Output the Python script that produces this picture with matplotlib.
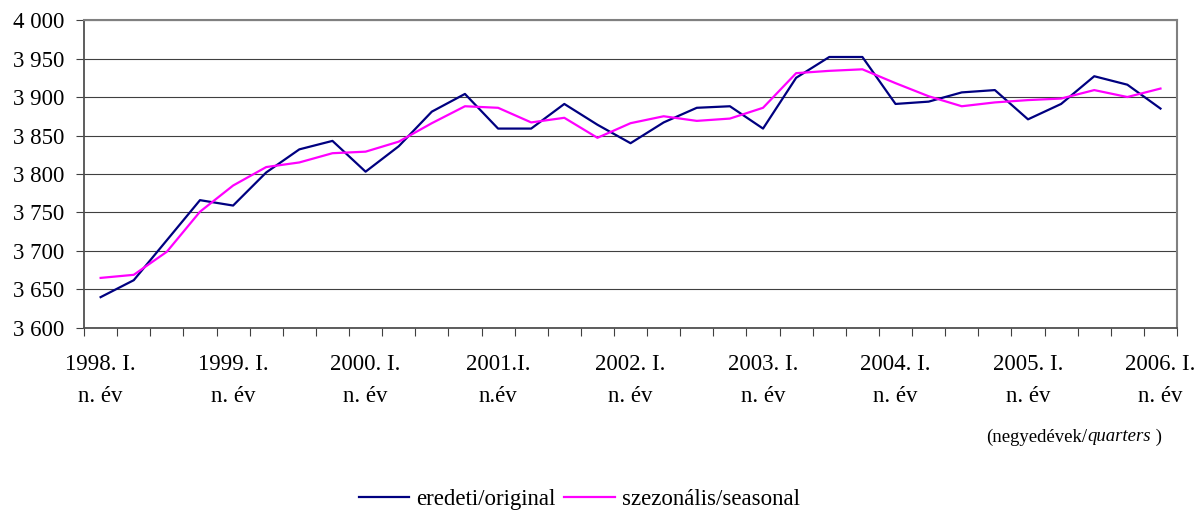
import numpy as np
import matplotlib
matplotlib.use("Agg")
import matplotlib.pyplot as plt
from matplotlib.ticker import FuncFormatter, FixedLocator

plt.rcParams['font.family'] = ['Liberation Serif', 'DejaVu Serif']

# 1998 Q1 .. 2006 Q1 (33 quarters)
original = [3640, 3662, 3714, 3766, 3759, 3802, 3832, 3843, 3803, 3836,
            3881, 3904, 3859, 3859, 3891, 3864, 3840, 3867, 3886, 3888,
            3859, 3925, 3952, 3952, 3891, 3894, 3906, 3909, 3871, 3891,
            3927, 3916, 3885]
seasonal = [3665, 3669, 3699, 3751, 3785, 3809, 3815, 3827, 3829, 3842,
            3866, 3888, 3886, 3867, 3873, 3847, 3866, 3875, 3869, 3872,
            3886, 3931, 3934, 3936, 3918, 3901, 3888, 3893, 3896, 3898,
            3909, 3900, 3911]
tick_labels = ["1998. I.\nn. év", "1999. I.\nn. év", "2000. I.\nn. év",
               "2001.I.\nn.év", "2002. I.\nn. év", "2003. I.\nn. év",
               "2004. I.\nn. év", "2005. I.\nn. év", "2006. I.\nn. év"]
label_step = 4

fs = 16.5
fig = plt.figure(figsize=(11.94, 5.14), dpi=100)
ax = fig.add_axes([0.0704, 0.362, 0.9154, 0.599])

x = np.arange(len(original))
ax.plot(x, original, color='#000080', lw=1.6, label='eredeti/original')
ax.plot(x, seasonal, color='#FF00FF', lw=1.6, label='szezonális/seasonal')

ax.set_xlim(-0.5, len(original) - 0.5)
ax.set_ylim(3600, 4000)
ax.set_yticks(np.arange(3600, 4001, 50))
ax.yaxis.set_major_formatter(FuncFormatter(lambda v, p: f"{int(v):,}".replace(",", " ")))
ax.grid(axis='y', color='#404040', lw=0.8)
ax.set_axisbelow(True)

# tick marks at category boundaries, labels every 4th quarter
ax.xaxis.set_major_locator(FixedLocator(np.arange(-0.5, len(original), 1.0)))
ax.xaxis.set_major_formatter(FuncFormatter(lambda v, p: ""))
ax.xaxis.set_minor_locator(FixedLocator(x[::label_step]))
ax.set_xticklabels(tick_labels, minor=True)
ax.tick_params(axis='x', which='major', direction='out', length=6, color='#404040')
ax.tick_params(axis='x', which='minor', length=0, pad=19, labelsize=fs)
for t in ax.get_xticklabels(minor=True):
    t.set_linespacing(1.65)
ax.tick_params(axis='y', direction='out', length=6, pad=8, labelsize=fs, color='#404040')

for s in ['top', 'right']:
    ax.spines[s].set_color('#808080')
    ax.spines[s].set_linewidth(1.5)
for s in ['left', 'bottom']:
    ax.spines[s].set_color('#505050')
    ax.spines[s].set_linewidth(1.3)

# unit note, with the English word in italics
t1 = fig.text(0.826, 0.15, "(negyedévek/", ha='left', va='center', fontsize=13.5)
fig.canvas.draw()
bb = t1.get_window_extent()
t2 = fig.text(bb.x1 / fig.bbox.width, 0.15, "quarters", ha='left', va='center',
              fontsize=13.5, style='italic')
bb2 = t2.get_window_extent()
fig.text(bb2.x1 / fig.bbox.width, 0.15, " )", ha='left', va='center', fontsize=13.5)

fig.legend(loc='center', bbox_to_anchor=(0.485, 0.028), ncol=2, frameon=False,
           fontsize=fs, handlelength=2.2, handletextpad=0.3, columnspacing=0.4)

plt.savefig("out.png", dpi=100)
